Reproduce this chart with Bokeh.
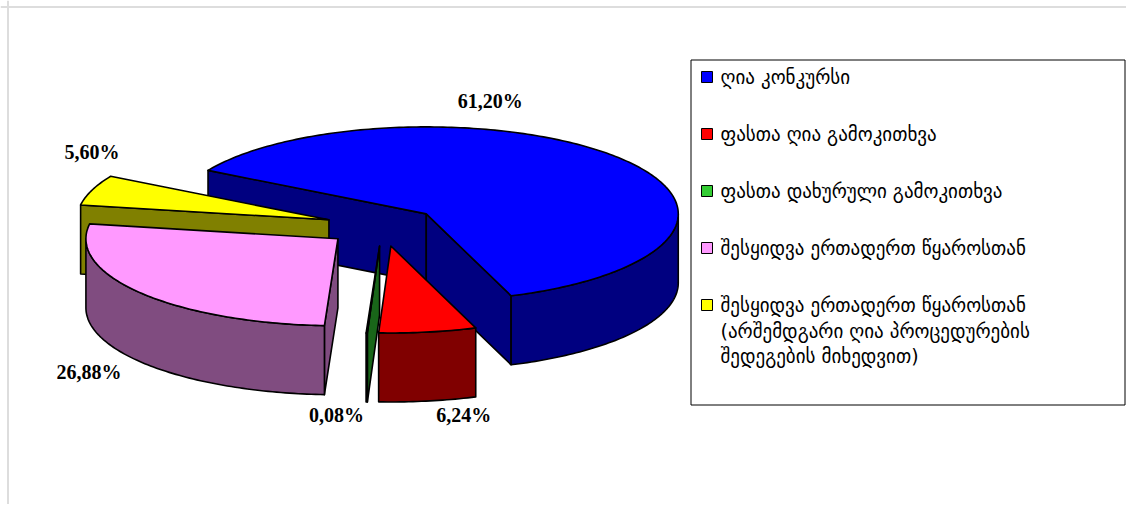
import math
from bokeh.plotting import figure
from bokeh.models import Range1d, Span, BoxAnnotation
from bokeh.core.properties import value
from bokeh.embed import file_html
from bokeh.resources import INLINE

# ---------------- data ----------------
categories = [
    "ღია კონკურსი",
    "ფასთა ღია გამოკითხვა",
    "ფასთა დახურული გამოკითხვა",
    "შესყიდვა  ერთადერთ წყაროსთან",
    "შესყიდვა  ერთადერთ წყაროსთან\n(არშემდგარი ღია პროცედურების\nშედეგების მიხედვით)",
]
shares = [61.20, 6.24, 0.08, 26.88, 5.60]
top_colors = ["#0000FF", "#FF0000", "#33CC33", "#FF99FF", "#FFFF00"]
side_colors = ["#000080", "#800000", "#196619", "#804C80", "#808000"]

# ---------------- layout / style ----------------
W, H = 1126, 504
CX, CY = 382.0, 226.0      # pie centre (plot units = page pixels)
RX, RY = 252.0, 87.0       # ellipse radii of the tilted pie
DEPTH = 69.0               # thickness of the pie
EXPLODE = 57.0             # explosion distance
START = 300.0              # angle of the first slice (clockwise from 12 o'clock)
LABEL_NUDGE = [(64, -113), (73, 169), (-43, 169), (-249, 133), (-237, -68)]

p = figure(width=W, height=H, x_range=Range1d(0, W), y_range=Range1d(H, 0),
           output_backend="svg", toolbar_location=None, min_border=0,
           x_axis_location=None, y_axis_location=None)
p.grid.visible = False
p.outline_line_color = None
p.background_fill_color = "white"
p.border_fill_color = "white"

K = RY / RX


def rim(ax, ay, a, dz=0.0):
    r = math.radians(a)
    return ax + RX * math.sin(r), ay - RY * math.cos(r) + dz


def arc(ax, ay, a0, a1, dz=0.0):
    n = max(2, int(abs(a1 - a0)) + 2)
    return [rim(ax, ay, a0 + (a1 - a0) * t / (n - 1), dz) for t in range(n)]


def visible(normal):
    n = normal % 360
    return 90 < n < 270


slices = []
acc = START
for i, v in enumerate(shares):
    span = v / 100.0 * 360.0
    s, e = acc, acc + span
    mid = (s + e) / 2
    m = math.radians(mid)
    ax = CX + EXPLODE * math.sin(m)
    ay = CY - EXPLODE * K * math.cos(m)
    slices.append(dict(i=i, s=s, e=e, mid=mid, ax=ax, ay=ay))
    acc = e

xs, ys, fills = [], [], []


def add(poly, color):
    xs.append([q[0] for q in poly])
    ys.append([q[1] for q in poly])
    fills.append(color)


for sl in sorted(slices, key=lambda d: d["ay"]):
    i, s, e, ax, ay = sl["i"], sl["s"], sl["e"], sl["ax"], sl["ay"]
    # radial faces
    for a, normal in ((s, s - 90), (e, e + 90)):
        if visible(normal):
            t = rim(ax, ay, a)
            b = rim(ax, ay, a, DEPTH)
            add([(ax, ay), t, b, (ax, ay + DEPTH)], side_colors[i])
    # outer wall (front part only)
    for k in range(-1, 3):
        lo = max(s, 90 + 360 * k)
        hi = min(e, 270 + 360 * k)
        if hi > lo:
            add(arc(ax, ay, lo, hi) + arc(ax, ay, hi, lo, DEPTH), side_colors[i])
    # top face
    add([(ax, ay)] + arc(ax, ay, s, e), top_colors[i])

p.patches(xs, ys, fill_color=fills, line_color="black", line_width=1.6, line_join="round")

# percentage labels
lab_x, lab_y, lab_t = [], [], []
for sl, (dx, dy) in zip(slices, LABEL_NUDGE):
    lab_x.append(sl["ax"] + dx)
    lab_y.append(sl["ay"] + dy)
    lab_t.append(f"{shares[sl['i']]:.2f}".replace(".", ",") + "%")
p.text(x=lab_x, y=lab_y, text=lab_t, text_font=value("Liberation Serif"),
       text_font_style="bold", text_font_size="20px", text_align="center",
       text_baseline="middle", text_color="black")

# legend
LEG_L, LEG_R, LEG_T, LEG_B = 690.5, 1124.5, 59.5, 404.5
p.add_layout(BoxAnnotation(left=LEG_L, right=LEG_R, top=LEG_T, bottom=LEG_B,
                           fill_color=None, line_color="black", line_alpha=1.0,
                           line_width=1))
ITEM_Y0, ITEM_STEP, LINE_STEP = 76.5, 57.0, 25.5
sq_y = [ITEM_Y0 + j * ITEM_STEP for j in range(len(categories))]
p.rect(x=[706.5] * len(categories), y=sq_y, width=11, height=11,
       fill_color=top_colors, line_color="black", line_width=1)
tx, ty, tt = [], [], []
for j, c in enumerate(categories):
    for li, line in enumerate(c.split("\n")):
        tx.append(720)
        ty.append(sq_y[j] + li * LINE_STEP)
        tt.append(line)
p.text(x=tx, y=ty, text=tt, text_font=value("DejaVu Sans"), text_font_size="19px",
       text_align="left", text_baseline="middle", text_color="black")

# light page border (left and top)
p.add_layout(Span(location=7.5, dimension="height", line_color="#dddddd", line_width=2))
p.add_layout(Span(location=6.5, dimension="width", line_color="#dddddd", line_width=2))

open("out.html", "w").write(file_html(p, INLINE))
